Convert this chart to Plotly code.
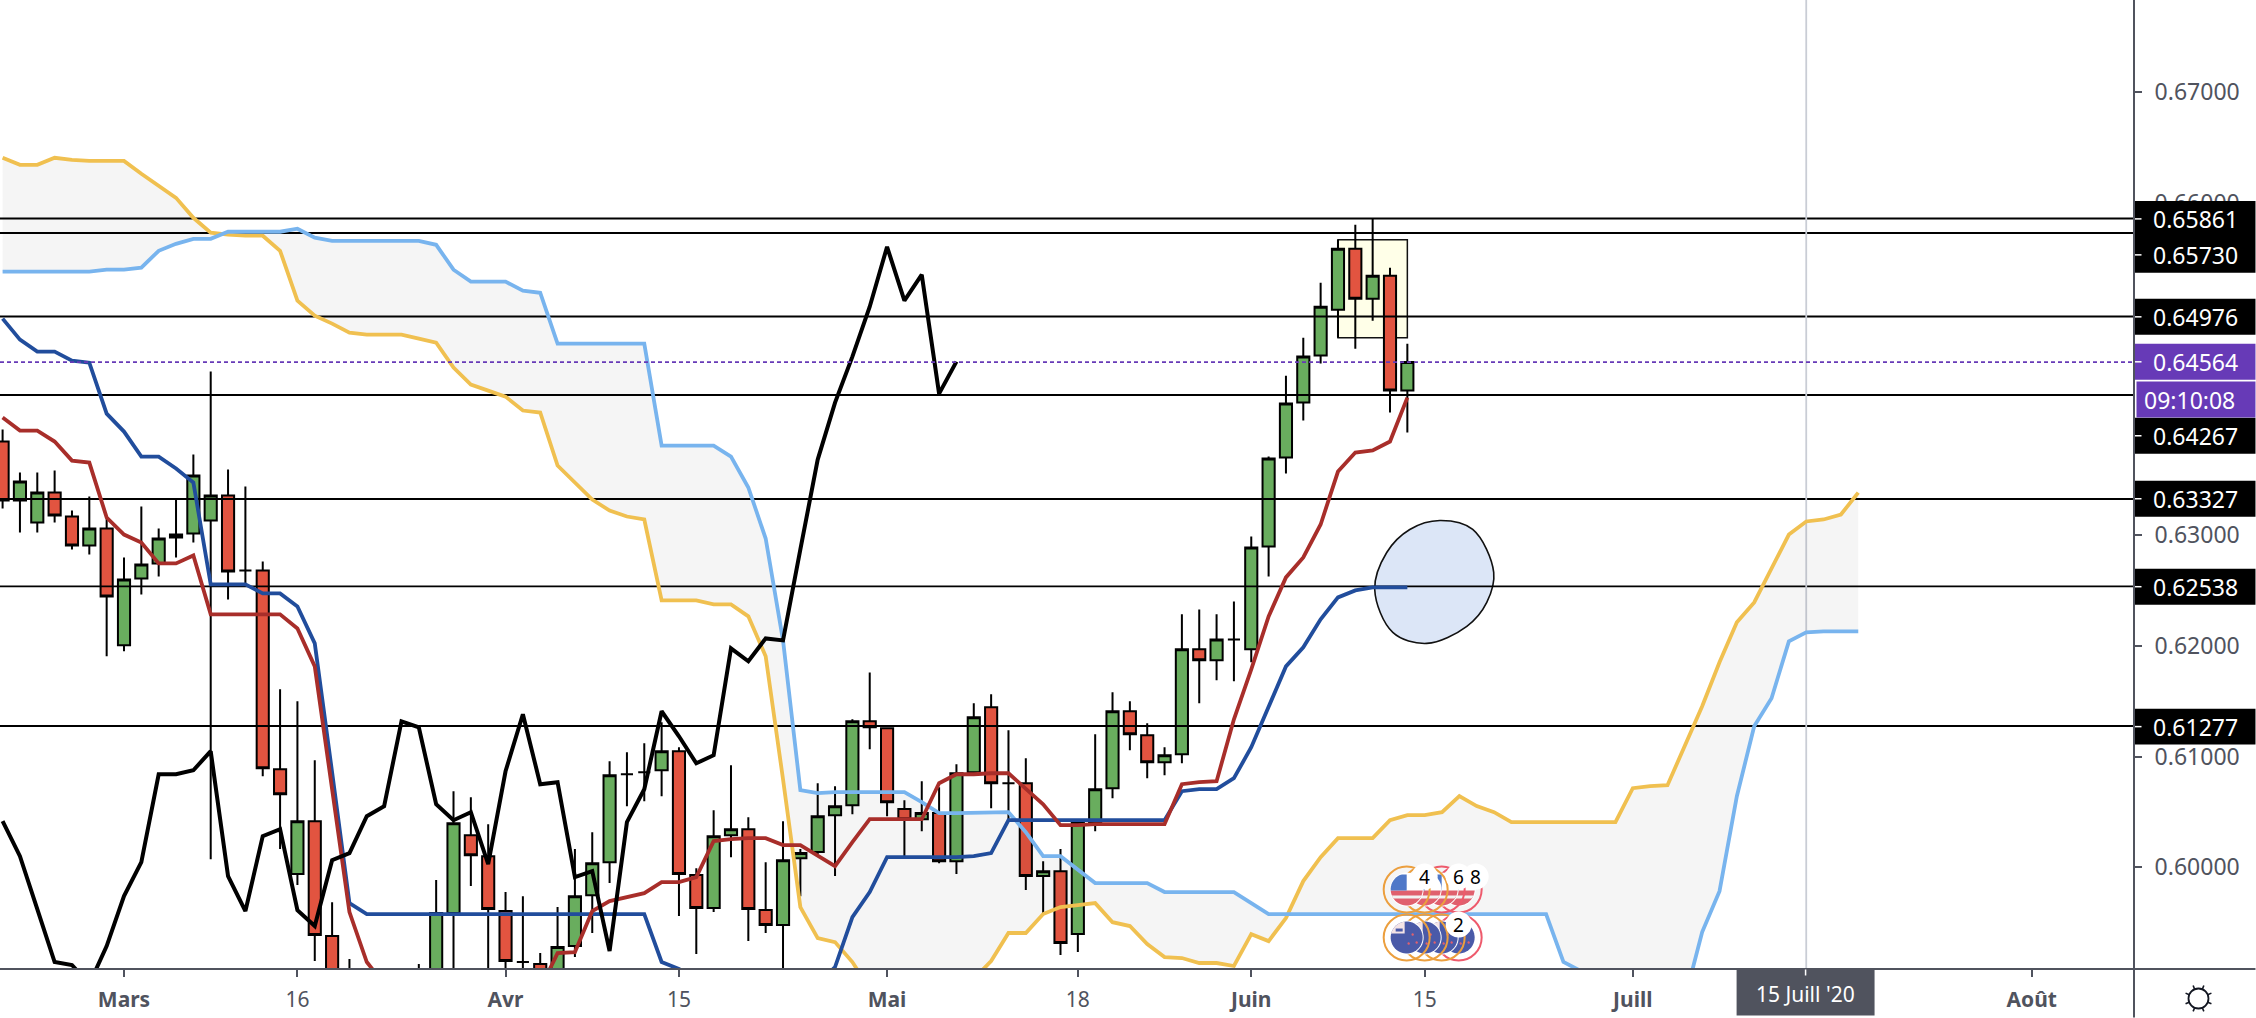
import numpy as np
import plotly.graph_objects as go

# daily NZD/USD candles, one entry per bar number (bar 7 = 2 March)
open_ = [.63846,.63313,.63115,.63385,.63169,.62907,.63060,.62005,.62609,.62745,
         .62979,.63015,.63133,.63358,.62682,.62682,.60886,.59939,.60417,.59379,
         .58901,.58811,.58540,.58720,.58766,.58811,.59587,.60291,.60101,.59605,
         .59145,.59127,.58901,.59289,.59749,.60047,.60841,.60859,.60877,.61049,
         .59930,.59632,.60291,.60345,.59614,.59479,.60083,.60138,.60471,.60562,
         .61319,.61256,.60526,.60435,.60490,.60056,.60859,.61446,.60760,.60760,
         .59921,.59966,.59397,.60408,.60715,.61410,.61193,.60950,.61022,.61969,
         .61870,.62059,.61969,.62898,.63702,.64198,.64622,.65037,.65587,.65136,
         .65344,.64306]
high = [.63954,.63566,.63566,.63584,.63223,.63349,.63160,.62799,.63259,.63060,
        .63331,.63729,.64478,.63593,.63440,.62763,.61608,.61500,.60967,.59686,
        .59172,.58946,.58901,.59036,.59127,.59885,.60688,.60634,.60390,.59777,
        .59740,.59226,.59641,.60165,.60318,.60958,.61040,.61121,.61310,.61085,
        .59993,.60516,.60922,.60453,.60047,.60417,.60165,.60760,.60733,.61337,
        .61761,.61256,.60607,.60778,.60724,.60931,.61482,.61563,.61238,.60985,
        .60056,.60165,.60417,.61202,.61581,.61500,.61301,.61085,.62285,.62330,
        .62285,.62402,.62989,.63711,.64441,.64784,.65280,.65669,.65804,.65858,
        .65416,.64730]
low = [.63241,.63024,.63024,.63115,.62871,.62826,.61906,.61951,.62465,.62628,
       .62799,.62934,.60074,.62420,.62556,.60823,.60165,.59840,.59154,.58540,
       .58450,.58450,.58450,.58631,.58720,.58720,.58811,.59831,.58901,.58811,
       .58811,.58856,.58811,.59190,.59407,.59858,.60553,.60598,.60643,.59560,
       .59217,.59596,.60092,.59334,.59407,.58946,.59740,.60120,.59921,.60480,
       .61067,.60462,.60101,.60327,.60038,.59939,.60841,.60535,.60435,.59795,
       .59578,.59208,.59235,.60327,.60625,.61058,.60805,.60832,.60940,.61482,
       .61689,.61680,.61852,.62628,.63557,.64035,.64550,.64784,.64685,.64938,
       .64108,.63927]
close = [.63313,.63485,.63385,.63178,.62907,.63060,.62447,.62600,.62736,.62970,
         .63006,.63539,.63358,.62673,.62682,.60895,.60661,.60417,.59388,.58720,
         .58631,.58540,.58811,.58946,.58946,.59587,.60399,.60110,.59623,.59154,
         .59145,.58946,.59280,.59740,.60038,.60832,.60841,.60859,.61049,.59939,
         .59632,.60282,.60345,.59623,.59479,.60065,.60129,.60462,.60553,.61319,
         .61265,.60589,.60435,.60490,.60056,.60850,.61356,.60760,.60760,.59921,
         .59966,.59316,.60408,.60706,.61410,.61202,.60950,.61013,.61969,.61870,
         .62059,.62059,.62889,.63693,.64189,.64613,.65064,.65587,.65136,.65344,
         .64306,.64564]

# ichimoku lines
tenkan = [.64063,.63945,.63945,.63846,.63674,.63656,.63160,.63006,.62934,.62745,
          .62745,.62817,.62285,.62285,.62285,.62285,.62285,.62158,.61815,.60706,
          .59596,.59145,.58946,.58811,.58811,.58811,.58811,.58811,.58811,.58811,
          .58811,.58901,.59226,.59235,.59605,.59695,.59731,.59767,.59867,.59867,
          .59912,.60237,.60255,.60264,.60264,.60201,.60201,.60101,.60011,.60228,
          .60435,.60435,.60435,.60435,.60760,.60841,.60841,.60850,.60850,.60706,
          .60570,.60381,.60381,.60390,.60390,.60390,.60390,.60390,.60751,.60769,
          .60778,.61337,.61789,.62267,.62619,.62799,.63097,.63575,.63747,.63765,
          .63846,.64243]
kijun = [.64956,.64766,.64658,.64658,.64576,.64558,.64098,.63936,.63710,.63710,
         .63602,.63476,.62556,.62556,.62556,.62474,.62474,.62357,.62023,.60859,
         .59677,.59578,.59578,.59578,.59578,.59578,.59578,.59578,.59578,.59578,
         .59578,.59578,.59578,.59578,.59578,.59578,.59578,.59578,.59145,.59082,
         .58992,.58811,.58811,.58811,.58811,.58811,.58811,.58946,.59100,.59551,
         .59777,.60092,.60092,.60092,.60092,.60092,.60101,.60129,.60426,.60426,
         .60426,.60426,.60426,.60426,.60426,.60426,.60426,.60426,.60688,.60706,
         .60706,.60805,.61085,.61455,.61815,.61987,.62240,.62438,.62501,.62528,
         .62528,.62528]
chikou = [.60417,.60101,.59623,.59145,.59118,.58946,.59289,.59740,.60047,.60841,
          .60841,.60877,.61049,.59921,.59605,.60282,.60345,.59614,.59470,.60065,
          .60129,.60462,.60553,.61319,.61265,.60570,.60426,.60498,.60029,.60868,
          .61383,.60751,.60769,.59912,.59966,.59244,.60408,.60706,.61410,.61184,
          .60940,.61013,.61978,.61861,.62068,.62050,.62871,.63683,.64198,.64613,
          .65064,.65605,.65118,.65353,.64279,.64568]
senkou_a = [.66409,.66345,.66345,.66409,.66390,.66381,.66381,.66381,.66264,.66156,
            .66047,.65867,.65732,.65714,.65705,.65705,.65569,.65118,.64983,.64911,
            .64829,.64811,.64811,.64811,.64775,.64739,.64514,.64360,.64306,.64252,
            .64126,.64108,.63629,.63476,.63322,.63223,.63169,.63142,.62411,.62411,
            .62411,.62375,.62375,.62267,.61906,.60796,.59641,.59361,.59325,.59145,
            .58901,.58811,.58811,.58811,.58811,.58811,.58992,.59154,.59407,.59407,
            .59578,.59641,.59659,.59677,.59505,.59470,.59307,.59190,.59181,.59136,
            .59136,.59109,.59397,.59334,.59542,.59876,.60092,.60264,.60264,.60264,
            .60426,.60471,.60471,.60498,.60643,.60553,.60498,.60408,.60408,.60408,
            .60408,.60408,.60408,.60408,.60715,.60733,.60742,.61094,.61455,.61852,
            .62213,.62393,.62691,.63006,.63124,.63142,.63187,.63385]
senkou_b = [.65380,.65380,.65380,.65380,.65380,.65380,.65398,.65398,.65416,.65569,
            .65632,.65677,.65677,.65741,.65741,.65741,.65741,.65768,.65687,.65659,
            .65659,.65659,.65659,.65659,.65659,.65623,.65398,.65290,.65290,.65290,
            .65208,.65190,.64730,.64730,.64730,.64730,.64730,.64730,.63810,.63810,
            .63810,.63810,.63710,.63431,.62970,.62050,.60697,.60670,.60679,.60679,
            .60679,.60679,.60679,.60589,.60490,.60490,.60490,.60498,.60498,.60318,
            .60101,.60101,.59984,.59858,.59858,.59858,.59858,.59777,.59777,.59777,
            .59777,.59777,.59677,.59578,.59578,.59578,.59578,.59578,.59578,.59578,
            .59578,.59578,.59578,.59578,.59578,.59578,.59578,.59578,.59578,.59578,
            .59145,.59064,.58811,.58811,.58811,.58811,.58811,.58811,.59416,.59785,
            .60643,.61274,.61527,.62041,.62122,.62131,.62131,.62131]

# horizontal levels drawn by hand
levels = [0.65861, 0.65730, 0.64976, 0.64267, 0.63327, 0.62538, 0.61277]
last_price = 0.64564
crosshair_bar = 104

# freehand blob around the kijun
blob_bars = [82.87, 84.77, 85.98, 85.58, 84.43, 82.12, 80.16, 79.12, 79.81, 81.14, 82.87]
blob_prices = [.63133, .63052, .62664, .62393, .62177, .62023, .62123, .62510, .62844, .63052, .63133]

# axis labels
x_tick_bars = [7, 17, 29, 39, 51, 62, 72, 82, 94, 117]
x_tick_text = ["<b>Mars</b>", "16", "<b>Avr</b>", "15", "<b>Mai</b>", "18",
               "<b>Juin</b>", "15", "<b>Juill</b>", "<b>Août</b>"]
y_ticks = [0.60, 0.61, 0.62, 0.63, 0.66, 0.67]

# boxes on the price scale: text, centre in pixels, colour
price_boxes = [("0.65861", 219, "#000000"), ("0.65730", 255, "#000000"),
               ("0.64976", 317, "#000000"), ("0.64564", 362, "#673ab7"),
               ("0.64267", 436, "#000000"), ("0.63327", 499, "#000000"),
               ("0.62538", 587, "#000000"), ("0.61277", 727, "#000000")]

W, H = 2256, 1018
PLOT_W, PLOT_H = 2134.5, 969.5
GREY = "#50535e"
FONT = "Noto Sans"

bars = list(range(len(close)))
future_bars = list(range(len(senkou_a)))
x_range = [-0.15, 122.9]
y_range = [0.59082, 0.67834]


def px(x):
    return x / PLOT_W


def py(y):
    return 1 - y / PLOT_H


fig = go.Figure()

fig.add_trace(go.Candlestick(
    x=bars, open=open_, high=high, low=low, close=close,
    increasing=dict(fillcolor="#69ad5e", line=dict(color="#000000", width=2)),
    decreasing=dict(fillcolor="#e25440", line=dict(color="#000000", width=2)),
    whiskerwidth=0))

# blob first so the levels and kijun stay on top of it
fig.add_trace(go.Scatter(x=blob_bars, y=blob_prices, mode="lines", fill="toself",
                         fillcolor="#dce6f7", line=dict(color="#111111", width=1.6, shape="spline")))

for lv in levels:
    fig.add_trace(go.Scatter(x=x_range, y=[lv, lv], mode="lines",
                             line=dict(color="#000000", width=1.9)))
fig.add_trace(go.Scatter(x=[crosshair_bar, crosshair_bar], y=y_range, mode="lines",
                         line=dict(color="#c9cdd5", width=1.8)))

# cloud
fig.add_trace(go.Scatter(x=future_bars, y=senkou_a, mode="lines",
                         line=dict(color="#f0c050", width=3.8)))
fig.add_trace(go.Scatter(x=future_bars, y=senkou_b, mode="lines", fill="tonexty",
                         fillcolor="rgba(0,0,0,0.04)", line=dict(color="#78b4ee", width=3.8)))

fig.add_trace(go.Scatter(x=bars, y=kijun, mode="lines", line=dict(color="#214d9c", width=3.8)))
fig.add_trace(go.Scatter(x=bars, y=tenkan, mode="lines", line=dict(color="#a82e2a", width=3.8)))
fig.add_trace(go.Scatter(x=bars[:len(chikou)], y=chikou, mode="lines",
                         line=dict(color="#000000", width=4)))
fig.add_trace(go.Scatter(x=x_range, y=[last_price, last_price], mode="lines",
                         line=dict(color="#673ab7", width=1.8, dash="4px,3px")))

shapes = []
annotations = []

# highlighted rectangle round the last candles, under everything
shapes.append(dict(type="rect", xref="x", yref="y", layer="below", x0=77, x1=81,
                   y0=0.64784, y1=0.65669, fillcolor="#ffffe8",
                   line=dict(color="#111111", width=1.5)))


def box(x0, x1, y0, y1, color):
    shapes.append(dict(type="rect", xref="paper", yref="paper", x0=px(x0), x1=px(x1),
                       y0=py(y1), y1=py(y0), fillcolor=color, line=dict(width=0)))


def seg(x0, y0, x1, y1, color, width):
    shapes.append(dict(type="line", xref="paper", yref="paper", x0=px(x0), x1=px(x1),
                       y0=py(y0), y1=py(y1), line=dict(color=color, width=width)))


def label(x, y, text, color, size, anchor="left"):
    annotations.append(dict(xref="paper", yref="paper", x=px(x), y=py(y), text=text,
                            showarrow=False, xanchor=anchor, yanchor="middle", align="left",
                            font=dict(family=FONT, size=size, color=color)))


# axis frame continues to the edges of the window
seg(PLOT_W, 0, PLOT_W, H, GREY, 2)
seg(0, PLOT_H, W, PLOT_H, GREY, 2)

# price scale boxes
for text, yc, col in price_boxes:
    box(2135.5, W, yc - 18, yc + 18, col)
    seg(2135.5, yc, 2142, yc, "#ffffff", 1.5)
    label(2152, yc, text, "#ffffff", 23)
box(2137, W, 381.7, 417.7, "#673ab7")
label(2143, 400, "09:10:08", "#ffffff", 23)

# crosshair date label
box(1737, 1875, 970, 1016, GREY)
seg(1806, 970, 1806, 976, "#ffffff", 1.5)
label(1806, 995, "15 Juill '20", "#ffffff", 21, "center")

# settings icon
gx, gy = 2199, 999
shapes.append(dict(type="circle", xref="paper", yref="paper", x0=px(gx - 10), x1=px(gx + 10),
                   y0=py(gy + 10), y1=py(gy - 10), line=dict(color="#131722", width=1.8)))
for a in np.arange(8) * np.pi / 4 + np.pi / 8:
    seg(gx + 10 * np.cos(a), gy + 10 * np.sin(a), gx + 14 * np.cos(a), gy + 14 * np.sin(a),
        "#131722", 1.6)


def disc(cx, cy, r, color, x0=-1e9, x1=1e9, y0=-1e9, y1=1e9):
    # disc clipped to a box, as a polygon in paper coordinates
    t = np.linspace(0, 2 * np.pi, 48)
    xs = np.clip(cx + r * np.cos(t), x0, x1)
    ys = np.clip(cy + r * np.sin(t), y0, y1)
    path = "M " + " L ".join(f"{px(a):.5f},{py(b):.5f}" for a, b in zip(xs, ys)) + " Z"
    shapes.append(dict(type="path", xref="paper", yref="paper", path=path,
                       fillcolor=color, line=dict(width=0)))


def ring(cx, cy, r, color):
    shapes.append(dict(type="circle", xref="paper", yref="paper", x0=px(cx - r), x1=px(cx + r),
                       y0=py(cy + r), y1=py(cy - r), fillcolor="rgba(0,0,0,0)",
                       line=dict(color=color, width=2)))


# economic calendar flags, back to front
flag_x = [1459, 1442, 1425, 1407]
us_rings = ["#ee5a6c", "#ee5a6c", "#ec9f3e", "#ec9f3e"]
nz_rings = ["#ee5a6c", "#ec9f3e", "#ec9f3e", "#ec9f3e"]
for fx, col in zip(flag_x, us_rings):
    cy = 890
    disc(fx, cy, 17, "#ffffff")
    disc(fx, cy, 16, "#e0606e", y0=cy + 1)
    disc(fx, cy, 16, "#f2f2f2", y0=cy + 6, y1=cy + 9)
    disc(fx, cy, 16, "#4f78c8", x1=fx, y0=cy - 15, y1=cy + 1)
    ring(fx, cy, 23, col)
for fx, col in zip(flag_x, nz_rings):
    cy = 938
    disc(fx, cy, 17, "#ffffff")
    disc(fx, cy, 16, "#4a5aa8")
    disc(fx, cy, 16, "#f4e4e6", x1=fx - 2, y1=cy - 4)
    disc(fx, cy, 16, "#4a5aa8", x0=fx - 11, x1=fx - 4, y0=cy - 9, y1=cy - 6)
    for dx, dy in [(6, -3), (2, 6), (10, 5)]:
        disc(fx + dx, cy + dy, 1.2, "#e0606e")
    ring(fx, cy, 23, col)

for bx, by, txt in [(1425, 877, "4"), (1459, 877, "6"), (1476, 877, "8"), (1459, 925, "2")]:
    disc(bx, by, 13, "#ffffff")
    label(bx, by, txt, "#000000", 19, "center")

fig.update_layout(
    width=W, height=H, autosize=False,
    margin=dict(l=0, r=W - PLOT_W, t=0, b=H - PLOT_H),
    plot_bgcolor="#ffffff", paper_bgcolor="#ffffff",
    showlegend=False, boxgap=0.3, boxgroupgap=0,
    font=dict(family=FONT, size=22, color=GREY),
    shapes=shapes, annotations=annotations,
    xaxis=dict(type="linear", range=x_range, rangeslider=dict(visible=False), showgrid=False,
               zeroline=False, tickmode="array", tickvals=x_tick_bars, ticktext=x_tick_text,
               ticks="outside", ticklen=7, tickwidth=2, tickcolor=GREY, ticklabelstandoff=5,
               tickfont=dict(size=21, color=GREY), showline=False),
    yaxis=dict(side="right", range=y_range, showgrid=False, zeroline=False, tickmode="array",
               tickvals=y_ticks, tickformat=".5f", ticks="outside", ticklen=7, tickwidth=2,
               tickcolor=GREY, ticklabelstandoff=8, tickfont=dict(size=23, color=GREY),
               showline=False),
)

fig.write_html("out.html", config=dict(displayModeBar=False),
               post_script="document.body.style.margin='0';")
